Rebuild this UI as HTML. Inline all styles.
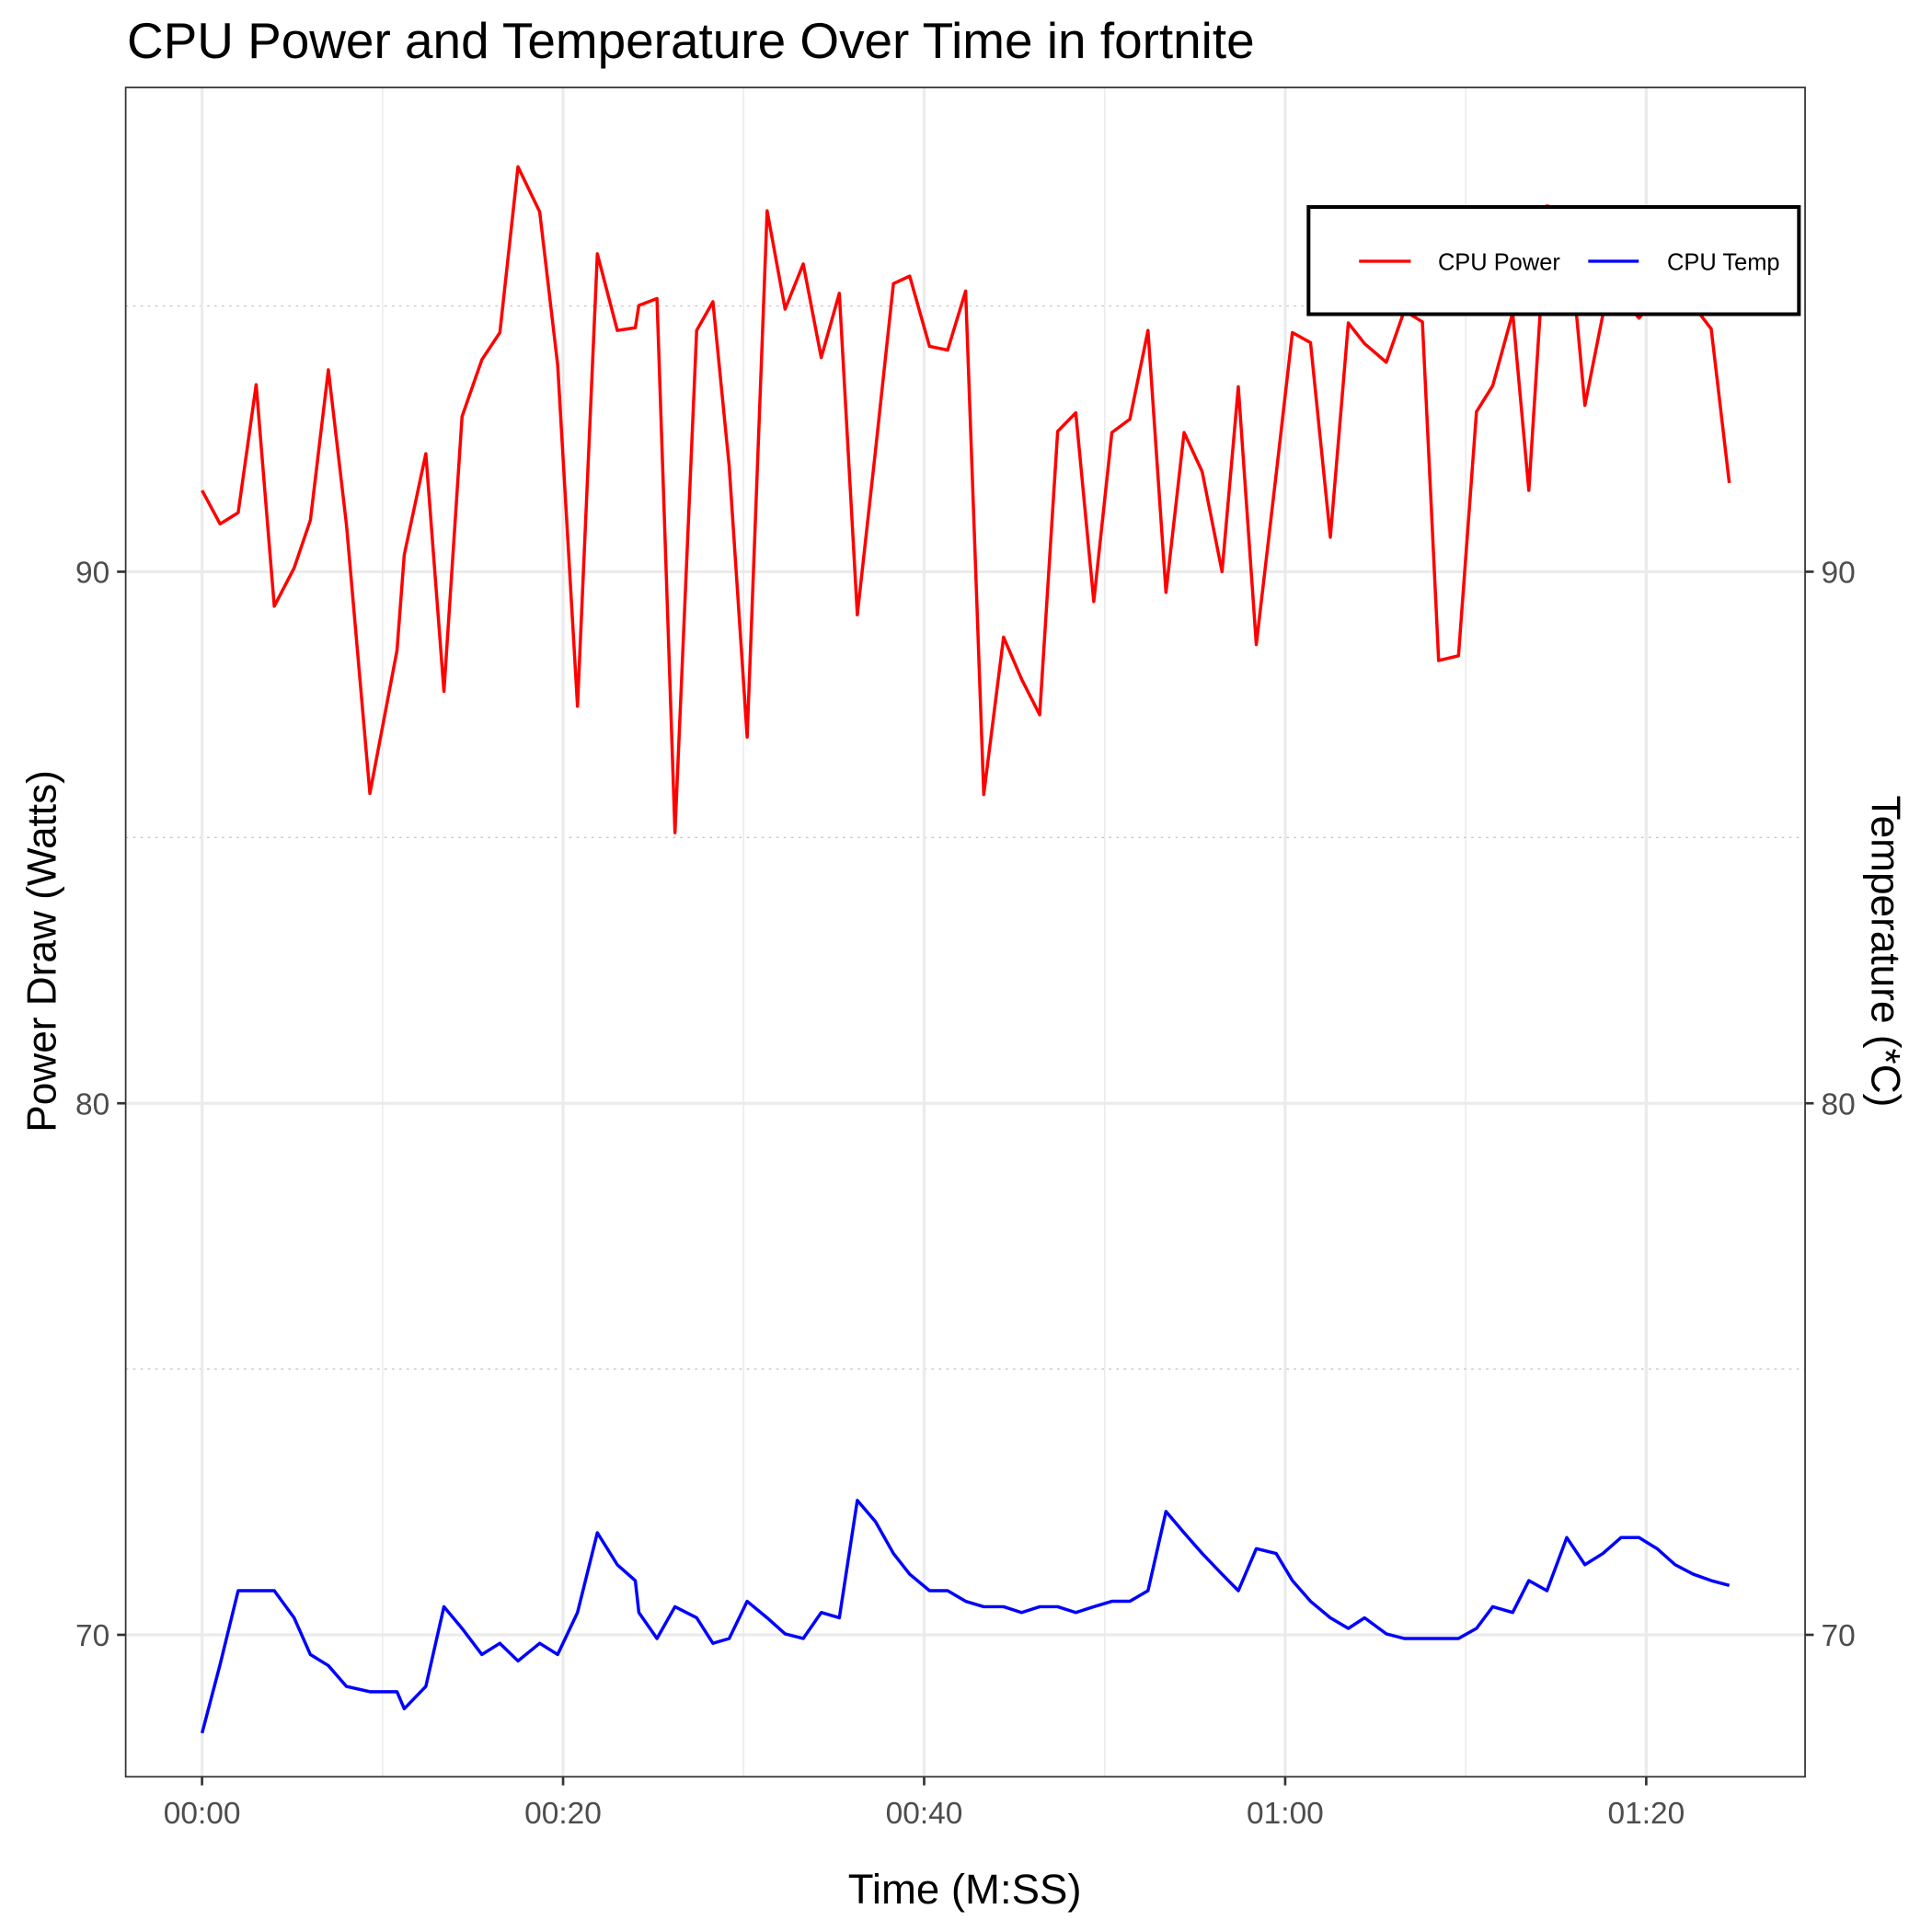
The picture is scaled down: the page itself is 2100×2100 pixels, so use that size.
<!DOCTYPE html>
<html><head><meta charset="utf-8"><style>html,body{margin:0;padding:0;background:#fff}svg{display:block}</style></head>
<body>
<svg id="chart" width="2100" height="2100" viewBox="0 0 1568 1568" xmlns="http://www.w3.org/2000/svg" font-family="Liberation Sans, sans-serif">
<rect x="0" y="0" width="1568" height="1568" fill="#fff"/>
<g id="grid"></g>
<g id="series"></g>
<rect x="102" y="71" width="1363" height="1371" fill="none" stroke="#333" stroke-width="1.3"/>
<g id="axes"></g>
<text x="103" y="47" font-size="41" fill="#000">CPU Power and Temperature Over Time in fortnite</text>
<text x="783" y="1545" font-size="34" text-anchor="middle" fill="#000">Time (M:SS)</text>
<text transform="translate(45,772) rotate(-90)" font-size="33" text-anchor="middle" fill="#000">Power Draw (Watts)</text>
<text transform="translate(1519,772) rotate(90)" font-size="33" text-anchor="middle" fill="#000">Temperature (*C)</text>
<g>
<rect x="1062" y="168" width="398" height="87" fill="#fff" stroke="#000" stroke-width="3"/>
<line x1="1103" y1="212" x2="1145" y2="212" stroke="#f00" stroke-width="2.5"/>
<text x="1167" y="219" font-size="19" fill="#000">CPU Power</text>
<line x1="1289" y1="212" x2="1330" y2="212" stroke="#00f" stroke-width="2.5"/>
<text x="1353" y="219" font-size="19" fill="#000">CPU Temp</text>
</g>
</svg>
<script>
const times=[0,1.0,2.0,3.0,4.0,5.1,6.0,7.0,8.0,9.3,10.8,11.2,12.4,13.4,14.4,15.5,16.5,17.5,18.7,19.7,20.8,21.9,23.0,24.0,24.2,25.2,26.2,27.4,28.3,29.2,30.2,31.3,32.3,33.3,34.3,35.3,36.3,37.3,38.3,39.2,40.3,41.3,42.3,43.3,44.4,45.4,46.4,47.4,48.4,49.4,50.4,51.4,52.4,53.4,54.4,55.4,56.5,57.4,58.4,59.5,60.4,61.4,62.5,63.5,64.4,65.6,66.6,67.6,68.5,69.6,70.6,71.5,72.6,73.5,74.5,75.6,76.6,77.6,78.6,79.6,80.6,81.6,82.6,83.6,84.6];
const power=[91.53,90.90,91.11,93.52,89.35,90.07,90.97,93.80,90.88,85.83,88.52,90.32,92.22,87.75,92.92,93.99,94.50,97.62,96.77,93.89,87.47,95.98,94.54,94.59,95.01,95.14,85.09,94.54,95.08,91.99,86.89,96.79,94.94,95.79,94.03,95.24,89.19,92.27,95.42,95.56,94.24,94.17,95.28,85.81,88.77,87.98,87.31,92.64,92.99,89.44,92.62,92.87,94.54,89.61,92.62,91.88,90.00,93.48,88.63,91.83,94.50,94.31,90.65,94.68,94.29,93.94,94.91,94.70,88.33,88.42,93.01,93.50,94.87,91.53,96.88,96.81,93.13,94.84,95.19,94.77,95.19,95.31,95.01,94.57,91.67];
const temp=[68.15,69.44,70.83,70.83,70.83,70.32,69.63,69.42,69.03,68.93,68.93,68.61,69.03,70.53,70.12,69.63,69.84,69.51,69.84,69.63,70.42,71.92,71.32,71.02,70.42,69.93,70.53,70.32,69.84,69.93,70.63,70.32,70.02,69.93,70.42,70.32,72.53,72.13,71.53,71.14,70.83,70.83,70.63,70.53,70.53,70.42,70.53,70.53,70.42,70.53,70.63,70.63,70.83,72.32,71.92,71.53,71.14,70.83,71.62,71.53,71.02,70.63,70.32,70.12,70.32,70.02,69.93,69.93,69.93,69.93,70.12,70.53,70.42,71.02,70.83,71.83,71.32,71.53,71.83,71.83,71.62,71.32,71.14,71.02,70.93];
const xTicks=[0,20,40,60,80];
const xTickLabels=["00:00","00:20","00:40","01:00","01:20"];
const xMinor=[10,30,50,70];
const yTicks=[70,80,90];
const yMinor=[75,85,95];

const NS="http://www.w3.org/2000/svg";
const X0=102,X1=1465,Y0=71,Y1=1442;
const xMin=-4.23,xMax=88.8,yMin=67.33,yMax=99.11;
const sx=t=>X0+(t-xMin)/(xMax-xMin)*(X1-X0);
const sy=v=>Y1-(v-yMin)/(yMax-yMin)*(Y1-Y0);
function mk(tag,attrs,parent){const e=document.createElementNS(NS,tag);for(const k in attrs)e.setAttribute(k,attrs[k]);parent.appendChild(e);return e;}
const grid=document.getElementById('grid'),axes=document.getElementById('axes'),series=document.getElementById('series');
xMinor.forEach(t=>{const l=mk('line',{x1:sx(t),x2:sx(t),y1:Y0,y2:Y1,stroke:'#ebebeb','stroke-width':1.2},grid);

});
yMinor.forEach(v=>{const l=mk('line',{x1:X0,x2:X1,y1:sy(v),y2:sy(v),stroke:'#c8c8c8','stroke-width':1,'stroke-dasharray':'2,4'},grid);

});
xTicks.forEach((t,i)=>{const x=sx(t);
const g=mk('line',{x1:x,x2:x,y1:Y0,y2:Y1,stroke:'#ebebeb','stroke-width':2.4},grid);


const tk=mk('line',{x1:x,x2:x,y1:Y1,y2:Y1+7,stroke:'#333','stroke-width':2},axes);


const tx=mk('text',{x:x,y:Y1+38,'font-size':25,'text-anchor':'middle',fill:'#4d4d4d'},axes);tx.textContent=xTickLabels[i];

});
yTicks.forEach(v=>{const y=sy(v);
const g=mk('line',{x1:X0,x2:X1,y1:y,y2:y,stroke:'#ebebeb','stroke-width':2.4},grid);


const t1=mk('line',{x1:X0-7,x2:X0,y1:y,y2:y,stroke:'#333','stroke-width':2},axes);


const t2=mk('line',{x1:X1,x2:X1+7,y1:y,y2:y,stroke:'#333','stroke-width':2},axes);


const l1=mk('text',{x:X0-13,y:y+9,'font-size':25,'text-anchor':'end',fill:'#4d4d4d'},axes);l1.textContent=v;


const l2=mk('text',{x:X1+13,y:y+9,'font-size':25,'text-anchor':'start',fill:'#4d4d4d'},axes);l2.textContent=v;

});
const pp=times.map((t,i)=>sx(t).toFixed(1)+','+sy(power[i]).toFixed(1)).join(' ');
const pl=mk('polyline',{points:pp,fill:'none',stroke:'#f00','stroke-width':2.6,'stroke-linejoin':'round'},series);


const tp=times.map((t,i)=>sx(t).toFixed(1)+','+sy(temp[i]).toFixed(1)).join(' ');
const tl=mk('polyline',{points:tp,fill:'none',stroke:'#00f','stroke-width':2.6,'stroke-linejoin':'round'},series);


</script>
</body></html>
